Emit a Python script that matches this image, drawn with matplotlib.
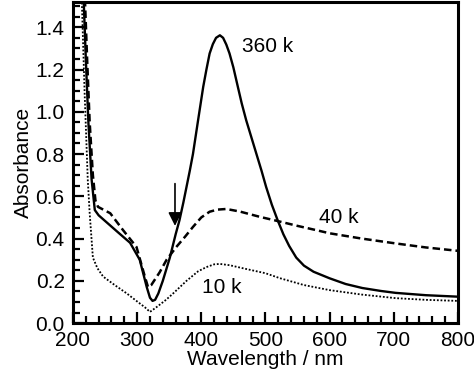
import matplotlib
matplotlib.use("Agg")
import matplotlib.pyplot as plt
from matplotlib.ticker import MultipleLocator

plt.rcParams['font.family'] = ['Liberation Sans', 'DejaVu Sans']

# 360 k (solid)
wl_360 = [213, 217, 220, 224, 229, 234, 240, 255, 270, 289, 304, 315, 320, 324, 328, 333,
          340, 351, 360, 366, 372, 377, 382, 387, 395, 403, 408, 413, 418, 423, 429, 434,
          439, 444, 450, 457, 463, 470, 478, 486, 494, 501, 510, 519, 528, 537, 548, 560,
          575, 600, 625, 651, 680, 703, 750, 800]
ab_360 = [1.8, 1.5, 1.25, 0.95, 0.68, 0.535, 0.51, 0.47, 0.43, 0.38, 0.30, 0.17, 0.12, 0.105, 0.11, 0.14,
          0.2, 0.31, 0.42, 0.487, 0.57, 0.645, 0.72, 0.80, 0.96, 1.118, 1.2, 1.276, 1.32, 1.35, 1.362, 1.35,
          1.318, 1.276, 1.21, 1.118, 1.04, 0.96, 0.88, 0.80, 0.72, 0.645, 0.56, 0.487, 0.42, 0.365, 0.31, 0.272,
          0.243, 0.212, 0.185, 0.166, 0.152, 0.143, 0.132, 0.125]

# 40 k (dashed)
wl_40 = [215, 219, 222, 226, 231, 235, 239, 258, 278, 299, 312, 317, 322, 335, 346,
         361, 375, 387, 400, 413, 425, 439, 460, 491, 519, 550, 579, 600, 650, 703, 750, 800]
ab_40 = [1.8, 1.5, 1.25, 0.95, 0.7, 0.58, 0.55, 0.52, 0.44, 0.36, 0.22, 0.17, 0.18, 0.24, 0.30,
         0.36, 0.41, 0.455, 0.5, 0.527, 0.537, 0.54, 0.528, 0.503, 0.483, 0.46, 0.44, 0.425, 0.4, 0.377, 0.358, 0.342]

# 10 k (dotted)
wl_10 = [209, 214, 218, 223, 226, 231, 238, 247, 265, 284, 301, 312, 320, 330, 345,
         356, 377, 395, 408, 420, 429, 444, 470, 500, 522, 560, 600, 650, 703, 750, 800]
ab_10 = [1.8, 1.5, 1.1, 0.68, 0.52, 0.31, 0.26, 0.22, 0.18, 0.14, 0.10, 0.075, 0.053, 0.075, 0.11,
         0.14, 0.20, 0.245, 0.265, 0.278, 0.28, 0.274, 0.256, 0.236, 0.213, 0.18, 0.156, 0.135, 0.118, 0.11, 0.105]

labels = ['360 k', '40 k', '10 k']
label_pos = [(504, 1.31), (615, 0.50), (432, 0.17)]

fig = plt.figure(figsize=(4.74, 3.81), dpi=100)
ax = fig.add_axes([0.154, 0.152, 0.812, 0.843])

ax.plot(wl_360, ab_360, color='black', lw=1.7, ls='-')
ax.plot(wl_40, ab_40, color='black', lw=1.8, ls=(0, (3, 1.6)))
ax.plot(wl_10, ab_10, color='black', lw=1.3, ls=(0, (1, 1)))

for t, (x, y) in zip(labels, label_pos):
    ax.text(x, y, t, fontsize=15, ha='center', va='center')

ax.annotate('', xy=(359, 0.46), xytext=(359, 0.66),
            arrowprops=dict(arrowstyle='-|>', color='black', lw=1.2,
                            mutation_scale=20, shrinkA=0, shrinkB=0))

ax.set_xlim(200, 800)
ax.set_ylim(0, 1.52)
ax.xaxis.set_major_locator(MultipleLocator(100))
ax.xaxis.set_minor_locator(MultipleLocator(20))
ax.yaxis.set_major_locator(MultipleLocator(0.2))
ax.yaxis.set_minor_locator(MultipleLocator(0.05))
ax.yaxis.set_major_formatter(plt.FuncFormatter(lambda v, p: f'{v:.1f}'))
ax.tick_params(which='both', direction='in', width=1.6, labelsize=15, top=False, right=False)
ax.tick_params(which='major', length=8, pad=6)
ax.tick_params(which='minor', length=5)
for s in ax.spines.values():
    s.set_linewidth(2.2)

ax.set_xlabel('Wavelength / nm', fontsize=15, labelpad=0)
ax.set_ylabel('Absorbance', fontsize=15, labelpad=2)

fig.savefig('out.png', dpi=100)
